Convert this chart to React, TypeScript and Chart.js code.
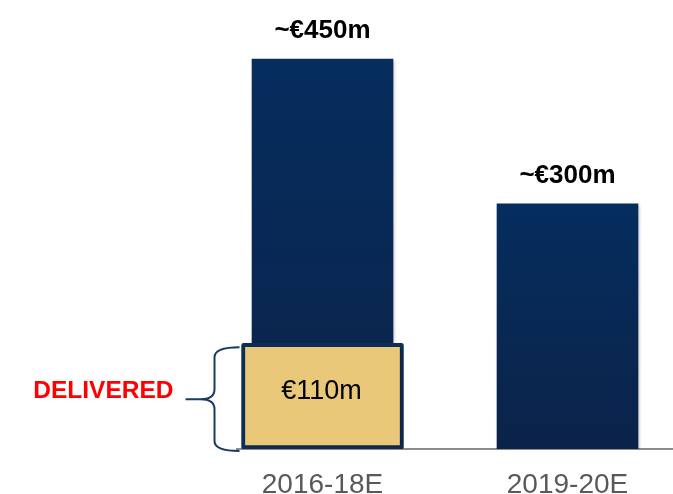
import React, { useEffect, useRef } from 'react';
import { Chart, registerables } from 'chart.js';

Chart.register(...registerables);

// ---- data ----
const categories = ['2016-18E', '2019-20E'];
const totalValues = [450, 283];
const totalLabels = ['~€450m', '~€300m'];
const deliveredValues = [122];
const deliveredLabels = ['€110m'];
const deliveredTag = 'DELIVERED';

// ---- styles ----
const FONT = '"Liberation Sans", Arial, Helvetica, sans-serif';
const NAVY_TOP = '#052d5e';
const NAVY_BOTTOM = '#0b2349';
const GOLD = '#e9c979';
const BORDER_NAVY = '#0c2e57';
const BRACKET = '#1b3a63';

export default function App() {
  const ref = useRef<HTMLCanvasElement>(null);

  useEffect(() => {
    const canvas = ref.current;
    if (!canvas) return;

    const overlay = {
      id: 'overlay',
      beforeDatasetsDraw(chart: any) {
        const ctx = chart.ctx;
        ctx.save();
        ctx.shadowColor = 'rgba(0,0,0,0.22)';
        ctx.shadowBlur = 3;
        ctx.shadowOffsetX = 2;
        ctx.shadowOffsetY = 2;
      },
      afterDatasetsDraw(chart: any) {
        const ctx = chart.ctx;
        ctx.restore();
        ctx.save();
        // total labels above navy bars
        const navy = chart.getDatasetMeta(1);
        ctx.fillStyle = '#000000';
        ctx.textAlign = 'center';
        ctx.textBaseline = 'alphabetic';
        ctx.font = `bold 26px ${FONT}`;
        navy.data.forEach((el: any, i: number) => {
          ctx.fillText(totalLabels[i], el.x, el.y - 21);
        });
        // delivered box label
        const gold = chart.getDatasetMeta(0);
        gold.data.forEach((el: any, i: number) => {
          ctx.font = `27px ${FONT}`;
          ctx.fillStyle = '#000000';
          ctx.textAlign = 'center';
          const cy = (el.y + el.base) / 2;
          ctx.fillText(deliveredLabels[i], el.x - 1, cy + 3);

          // curly bracket
          const left = el.x - el.width / 2;
          const bx = left - 2;
          const spine = left - 27;
          const tip = left - 56;
          const top = el.y + 4;
          const bottom = el.base + 2;
          const mid = (top + bottom) / 2;
          ctx.strokeStyle = BRACKET;
          ctx.lineWidth = 2;
          ctx.beginPath();
          ctx.moveTo(bx, top);
          ctx.quadraticCurveTo(spine, top, spine, top + 10);
          ctx.lineTo(spine, mid - 10);
          ctx.quadraticCurveTo(spine, mid, spine - 14, mid);
          ctx.lineTo(tip, mid);
          ctx.moveTo(spine - 14, mid);
          ctx.quadraticCurveTo(spine, mid, spine, mid + 10);
          ctx.lineTo(spine, bottom - 10);
          ctx.quadraticCurveTo(spine, bottom, bx, bottom);
          ctx.stroke();

          // DELIVERED tag
          ctx.font = `bold 24.5px ${FONT}`;
          ctx.fillStyle = '#ff0000';
          ctx.textAlign = 'right';
          ctx.fillText(deliveredTag, tip - 12, mid - 1);
        });
        ctx.restore();
      },
    };

    const navyGradient = (c: any) => {
      const chart = c.chart;
      const area = chart.chartArea;
      if (!area) return NAVY_TOP;
      const yScale = chart.scales.y;
      const v = c.raw && typeof c.raw === 'object' ? c.raw.y : 0;
      const topPx = yScale.getPixelForValue(v);
      const basePx = yScale.getPixelForValue(0);
      const g = chart.ctx.createLinearGradient(0, topPx, 0, basePx);
      g.addColorStop(0, NAVY_TOP);
      g.addColorStop(1, NAVY_BOTTOM);
      return g;
    };

    const chart = new Chart(canvas, {
      type: 'bar',
      data: {
        datasets: [
          {
            label: 'Delivered',
            data: deliveredValues.map((y, i) => ({ x: i, y })),
            backgroundColor: GOLD,
            borderColor: BORDER_NAVY,
            borderWidth: 4,
            borderSkipped: false,
            borderRadius: 2,
            barThickness: 162,
            grouped: false,
          } as any,
          {
            label: 'Total',
            data: totalValues.map((y, i) => ({ x: i, y })),
            backgroundColor: navyGradient,
            borderWidth: 0,
            barThickness: 141,
            grouped: false,
          } as any,
        ],
      },
      options: {
        animation: false,
        responsive: true,
        maintainAspectRatio: false,
        layout: { padding: { left: 237, top: 0, right: 0, bottom: 0 } },
        plugins: {
          legend: { display: false },
          tooltip: { enabled: false },
        },
        scales: {
          x: {
            type: 'linear',
            offset: false,
            bounds: 'ticks',
            min: -0.349,
            max: 1.4306,
            grid: { display: false, drawTicks: false, offset: false },
            border: { display: true, color: '#8c8c8c', width: 2 },
            afterBuildTicks: (s: any) => {
              s.ticks = categories.map((_, i) => ({ value: i }));
            },
            afterFit: (s: any) => {
              s.height = 45;
            },
            ticks: {
              autoSkip: false,
              maxRotation: 0,
              padding: 19,
              color: '#595959',
              font: { family: FONT, size: 28 },
              callback: (v: any) => categories[v as number] ?? '',
            },
          },
          y: {
            display: false,
            min: 0,
            max: 518.1,
          },
        },
      } as any,
      plugins: [overlay],
    });

    return () => chart.destroy();
  }, []);

  return (
    <div style={{ position: 'absolute', left: 0, top: 0, width: 673, height: 494 }}>
      <canvas ref={ref} />
    </div>
  );
}
